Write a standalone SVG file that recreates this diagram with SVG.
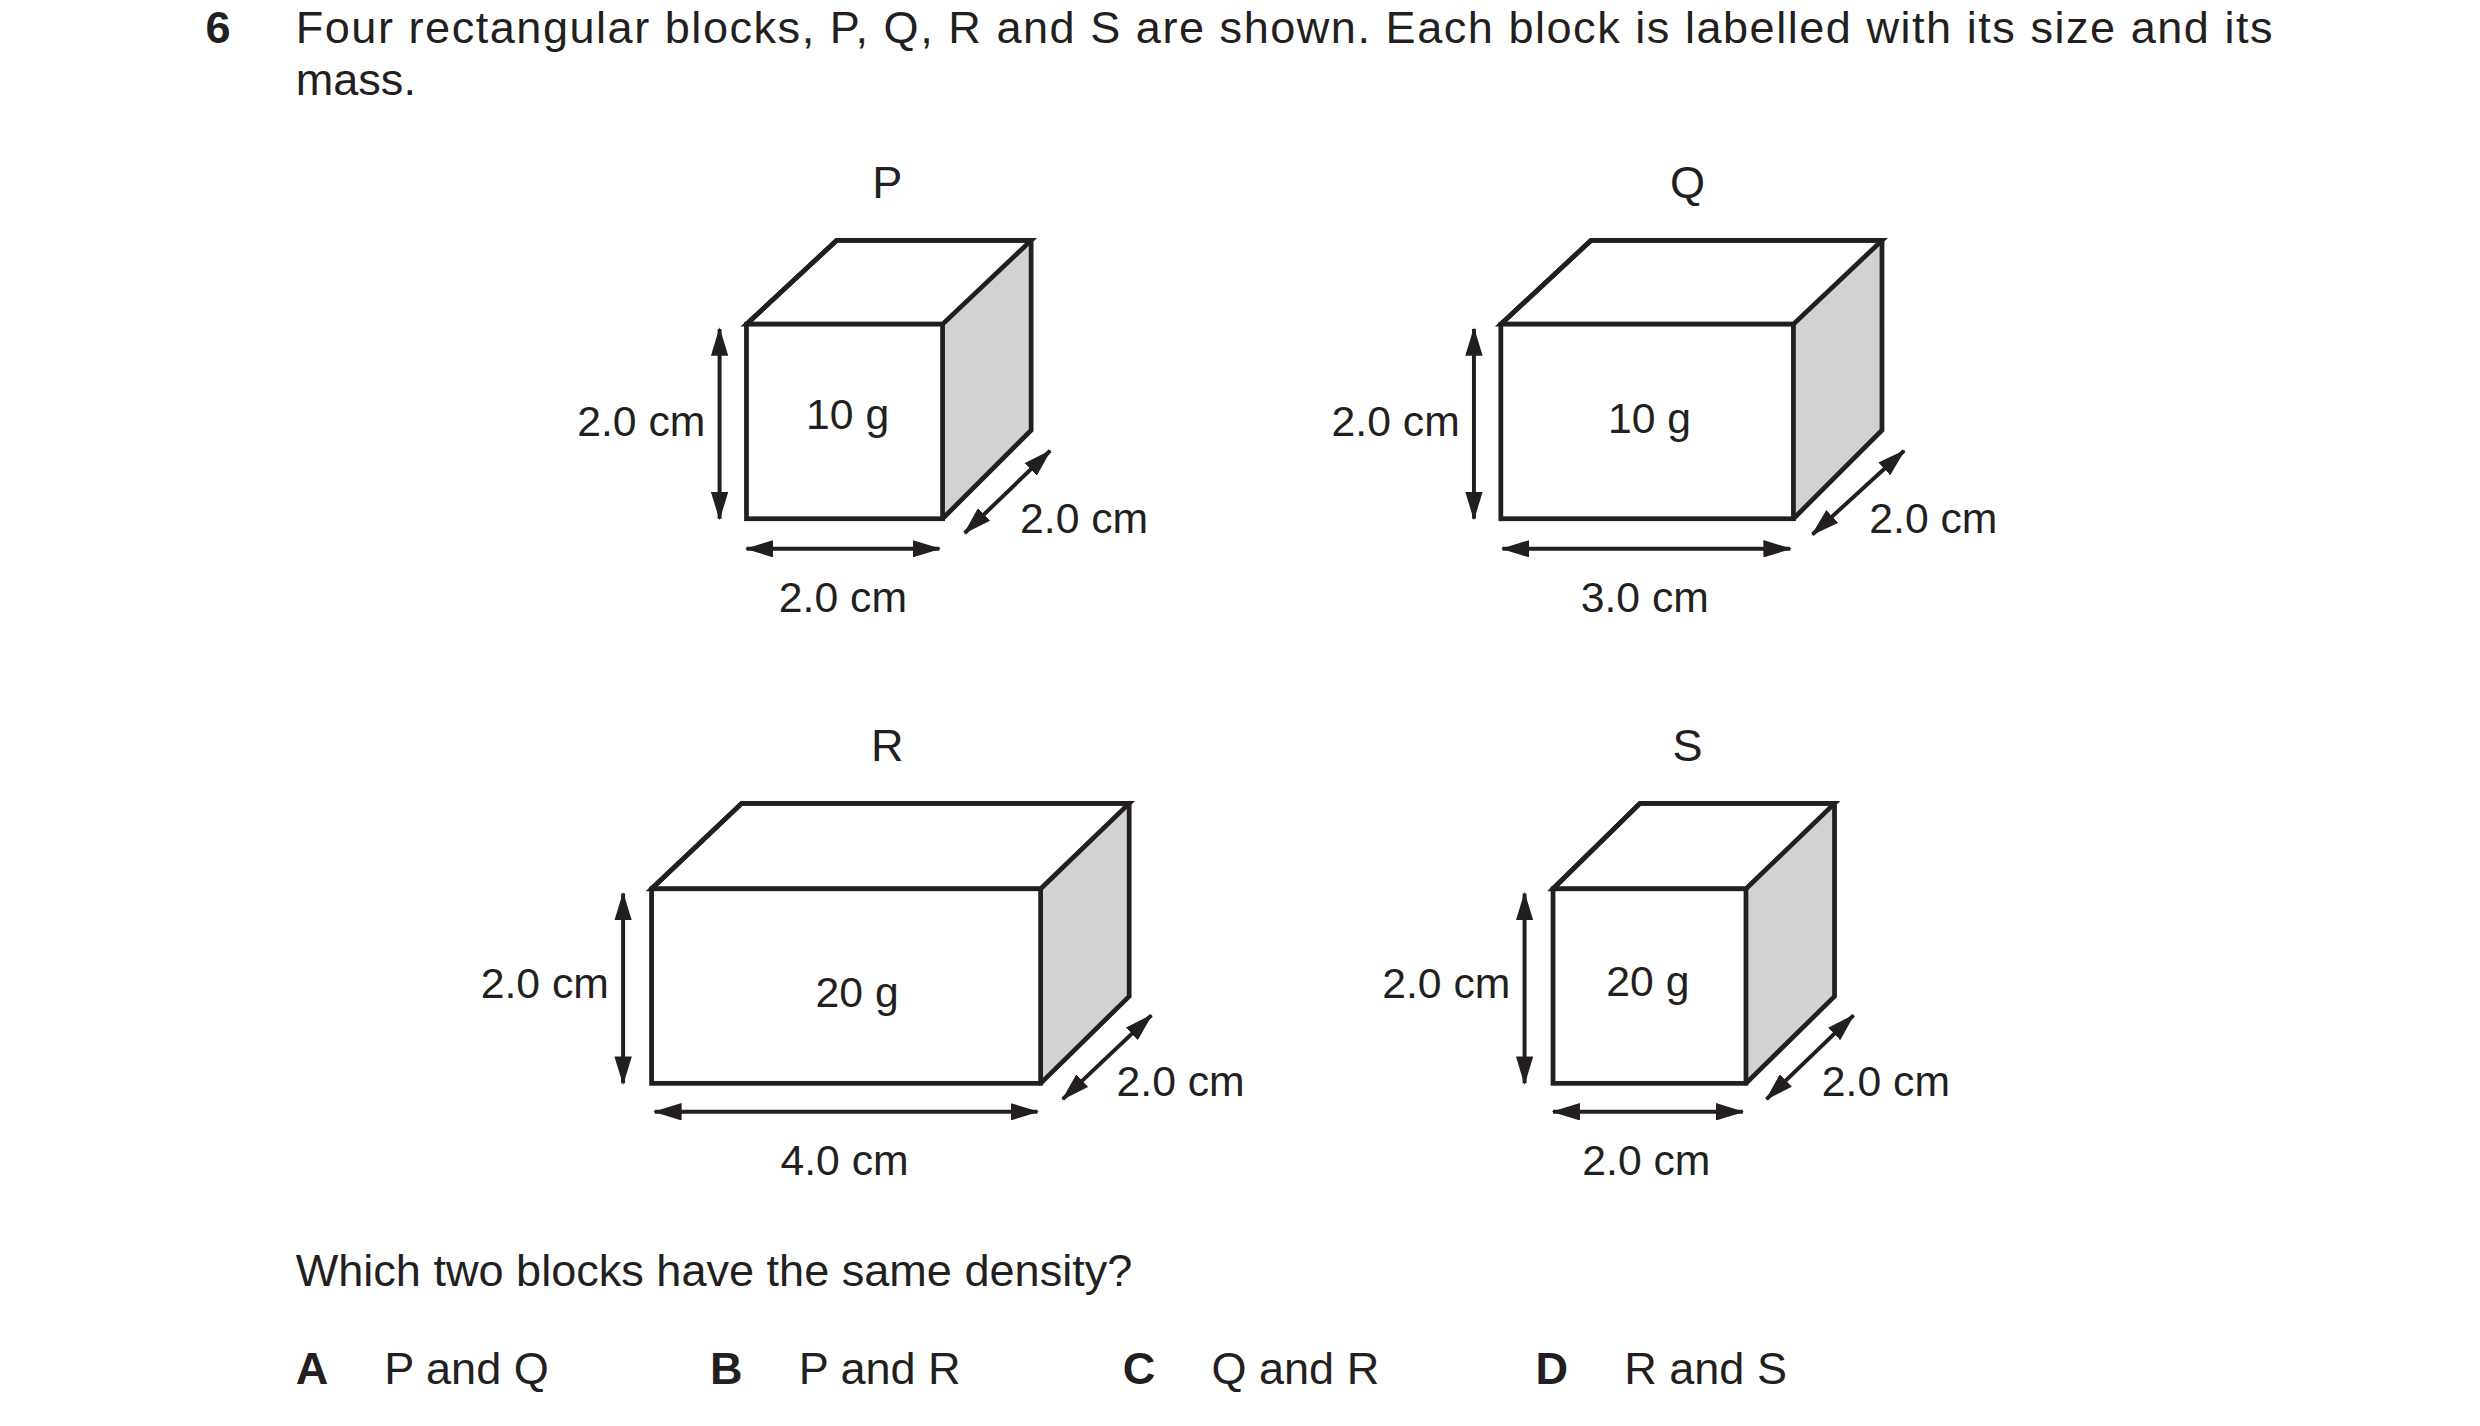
<svg xmlns="http://www.w3.org/2000/svg" width="2480" height="1426" viewBox="0 0 2480 1426">
<defs>
<style>
text{font-family:"Liberation Sans",Arial,sans-serif;fill:#231f20;font-size:28.5px}
.b{font-weight:bold}
.l{font-size:27px}
.m{text-anchor:middle}
.e{text-anchor:end}
.face{fill:#fff;stroke:#231f20;stroke-width:3;stroke-linejoin:miter}
.side{fill:#d1d2d4;stroke:#231f20;stroke-width:1.5}
.out{fill:none;stroke:#231f20;stroke-width:3;stroke-linejoin:miter}
.dim{stroke:#231f20;stroke-width:2.5;fill:none;marker-start:url(#ah);marker-end:url(#ah)}
</style>
<marker id="ah" viewBox="0 0 18 11" refX="17" refY="5.5" markerWidth="18" markerHeight="11" markerUnits="userSpaceOnUse" orient="auto-start-reverse"><path d="M0,0L18,5.5L0,11z" fill="#231f20"/></marker>
</defs>
<rect width="2480" height="1426" fill="#fff"/>
<g transform="scale(1.5815)">
<g id="question">
<text x="130" y="27" class="b">6</text>
<text x="187" y="27" textLength="1250" lengthAdjust="spacing">Four rectangular blocks, P, Q, R and S are shown. Each block is labelled with its size and its</text>
<text x="187" y="60">mass.</text>
<text x="187" y="813">Which two blocks have the same density?</text>
<text x="187" y="875" class="b">A</text><text x="243" y="875">P and Q</text>
<text x="449" y="875" class="b">B</text><text x="505" y="875">P and R</text>
<text x="710" y="875" class="b">C</text><text x="766" y="875">Q and R</text>
<text x="971" y="875" class="b">D</text><text x="1027" y="875">R and S</text>
</g>
<g id="P">
<path class="side" d="M596,205L652,152V272L596,328Z"/>
<path class="face" d="M472,205L529,152H652L596,205Z"/>
<rect class="face" x="472" y="205" width="124" height="123"/>
<path class="out" d="M472,205L529,152H652V272L596,328"/>
<text x="561" y="125" class="m">P</text>
<text x="536" y="271" class="m l">10 g</text>
<text x="446" y="276" class="e l">2.0 cm</text>
<text x="533" y="387" class="m l">2.0 cm</text>
<text x="645" y="337" class="l">2.0 cm</text>
</g>
<g id="Q">
<path class="side" d="M1134,205L1190,152V272L1134,328Z"/>
<path class="face" d="M949,205L1006,152H1190L1134,205Z"/>
<rect class="face" x="949" y="205" width="185" height="123"/>
<path class="out" d="M949,205L1006,152H1190V272L1134,328"/>
<text x="1067" y="125" class="m">Q</text>
<text x="1043" y="274" class="m l">10 g</text>
<text x="923" y="276" class="e l">2.0 cm</text>
<text x="1040" y="387" class="m l">3.0 cm</text>
<text x="1182" y="337" class="l">2.0 cm</text>
</g>
<g id="R">
<path class="side" d="M658,562L714,508V630L658,685Z"/>
<path class="face" d="M412,562L469,508H714L658,562Z"/>
<rect class="face" x="412" y="562" width="246" height="123"/>
<path class="out" d="M412,562L469,508H714V630L658,685"/>
<text x="561" y="481" class="m">R</text>
<text x="542" y="637" class="m l">20 g</text>
<text x="385" y="631" class="e l">2.0 cm</text>
<text x="534" y="743" class="m l">4.0 cm</text>
<text x="706" y="693" class="l">2.0 cm</text>
</g>
<g id="S">
<path class="side" d="M1104,562L1160,508V630L1104,685Z"/>
<path class="face" d="M982,562L1037,508H1160L1104,562Z"/>
<rect class="face" x="982" y="562" width="122" height="123"/>
<path class="out" d="M982,562L1037,508H1160V630L1104,685"/>
<text x="1067" y="481" class="m">S</text>
<text x="1042" y="630" class="m l">20 g</text>
<text x="955" y="631" class="e l">2.0 cm</text>
<text x="1041" y="743" class="m l">2.0 cm</text>
<text x="1152" y="693" class="l">2.0 cm</text>
</g>
<g id="connectors">
<line class="dim" x1="455" y1="208" x2="455" y2="328"/>
<line class="dim" x1="472" y1="347" x2="594" y2="347"/>
<line class="dim" x1="610" y1="337" x2="664" y2="285"/>
<line class="dim" x1="932" y1="208" x2="932" y2="328"/>
<line class="dim" x1="950" y1="347" x2="1132" y2="347"/>
<line class="dim" x1="1146" y1="338" x2="1204" y2="285"/>
<line class="dim" x1="394" y1="565" x2="394" y2="685"/>
<line class="dim" x1="414" y1="703" x2="656" y2="703"/>
<line class="dim" x1="672" y1="695" x2="728" y2="642"/>
<line class="dim" x1="964" y1="565" x2="964" y2="685"/>
<line class="dim" x1="982" y1="703" x2="1102" y2="703"/>
<line class="dim" x1="1117" y1="695" x2="1172" y2="642"/>
</g>
</g>
</svg>
